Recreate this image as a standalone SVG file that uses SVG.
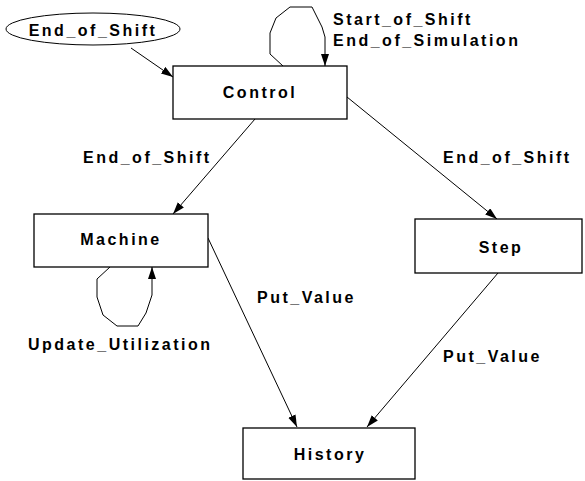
<svg xmlns="http://www.w3.org/2000/svg" width="585" height="481" viewBox="0 0 585 481">
<style>
.box{fill:#fff;stroke:#000;stroke-width:1.3}
.t{font-family:"Liberation Sans",Arial,sans-serif;font-weight:bold;font-size:16px;letter-spacing:2.5px;fill:#000}
.c{text-anchor:middle}
.e{fill:none;stroke:#000;stroke-width:1}
</style>
<defs>
<marker id="ah" markerUnits="userSpaceOnUse" markerWidth="13" markerHeight="9" refX="12" refY="4" orient="auto">
<path d="M0,0 L12,4 L0,8 z" fill="#000"/>
</marker>
</defs>
<rect width="585" height="481" fill="#fff"/>
<g id="connectors">
<line class="e" x1="131" y1="48" x2="173" y2="77" marker-end="url(#ah)"/>
<polyline class="e" points="283,66 270,54 270,33 276,18 290,7 312,7 322,27 325,37 325,66" marker-end="url(#ah)"/>
<line class="e" x1="255" y1="119" x2="173" y2="214" marker-end="url(#ah)"/>
<line class="e" x1="347" y1="97" x2="497" y2="219" marker-end="url(#ah)"/>
<polyline class="e" points="110,267 97,279 97,297 103,315 117,326 138,326 146,313 152,295 152,267" marker-end="url(#ah)"/>
<line class="e" x1="208" y1="238" x2="297" y2="427" marker-end="url(#ah)"/>
<line class="e" x1="498" y1="273" x2="367" y2="427" marker-end="url(#ah)"/>
<text class="t" x="333" y="25">Start_of_Shift</text>
<text class="t" x="333" y="46">End_of_Simulation</text>
<text class="t" x="83" y="163">End_of_Shift</text>
<text class="t" x="443" y="163">End_of_Shift</text>
<text class="t" x="28" y="350">Update_Utilization</text>
<text class="t" x="257" y="303">Put_Value</text>
<text class="t" x="443" y="362">Put_Value</text>
</g>
<g id="end_of_shift_event">
<ellipse cx="93" cy="29" rx="87" ry="16" fill="#fff" stroke="#000" stroke-width="1"/>
<text class="t c" x="93" y="36">End_of_Shift</text>
</g>
<g id="control">
<rect class="box" x="173" y="66" width="174" height="53"/>
<text class="t c" x="260" y="98">Control</text>
</g>
<g id="machine">
<rect class="box" x="34" y="214" width="174" height="53"/>
<text class="t c" x="121" y="245">Machine</text>
</g>
<g id="step">
<rect class="box" x="415" y="219" width="167" height="54"/>
<text class="t c" x="501" y="253">Step</text>
</g>
<g id="history">
<rect class="box" x="243" y="428" width="172" height="51"/>
<text class="t c" x="330" y="460">History</text>
</g>
</svg>
